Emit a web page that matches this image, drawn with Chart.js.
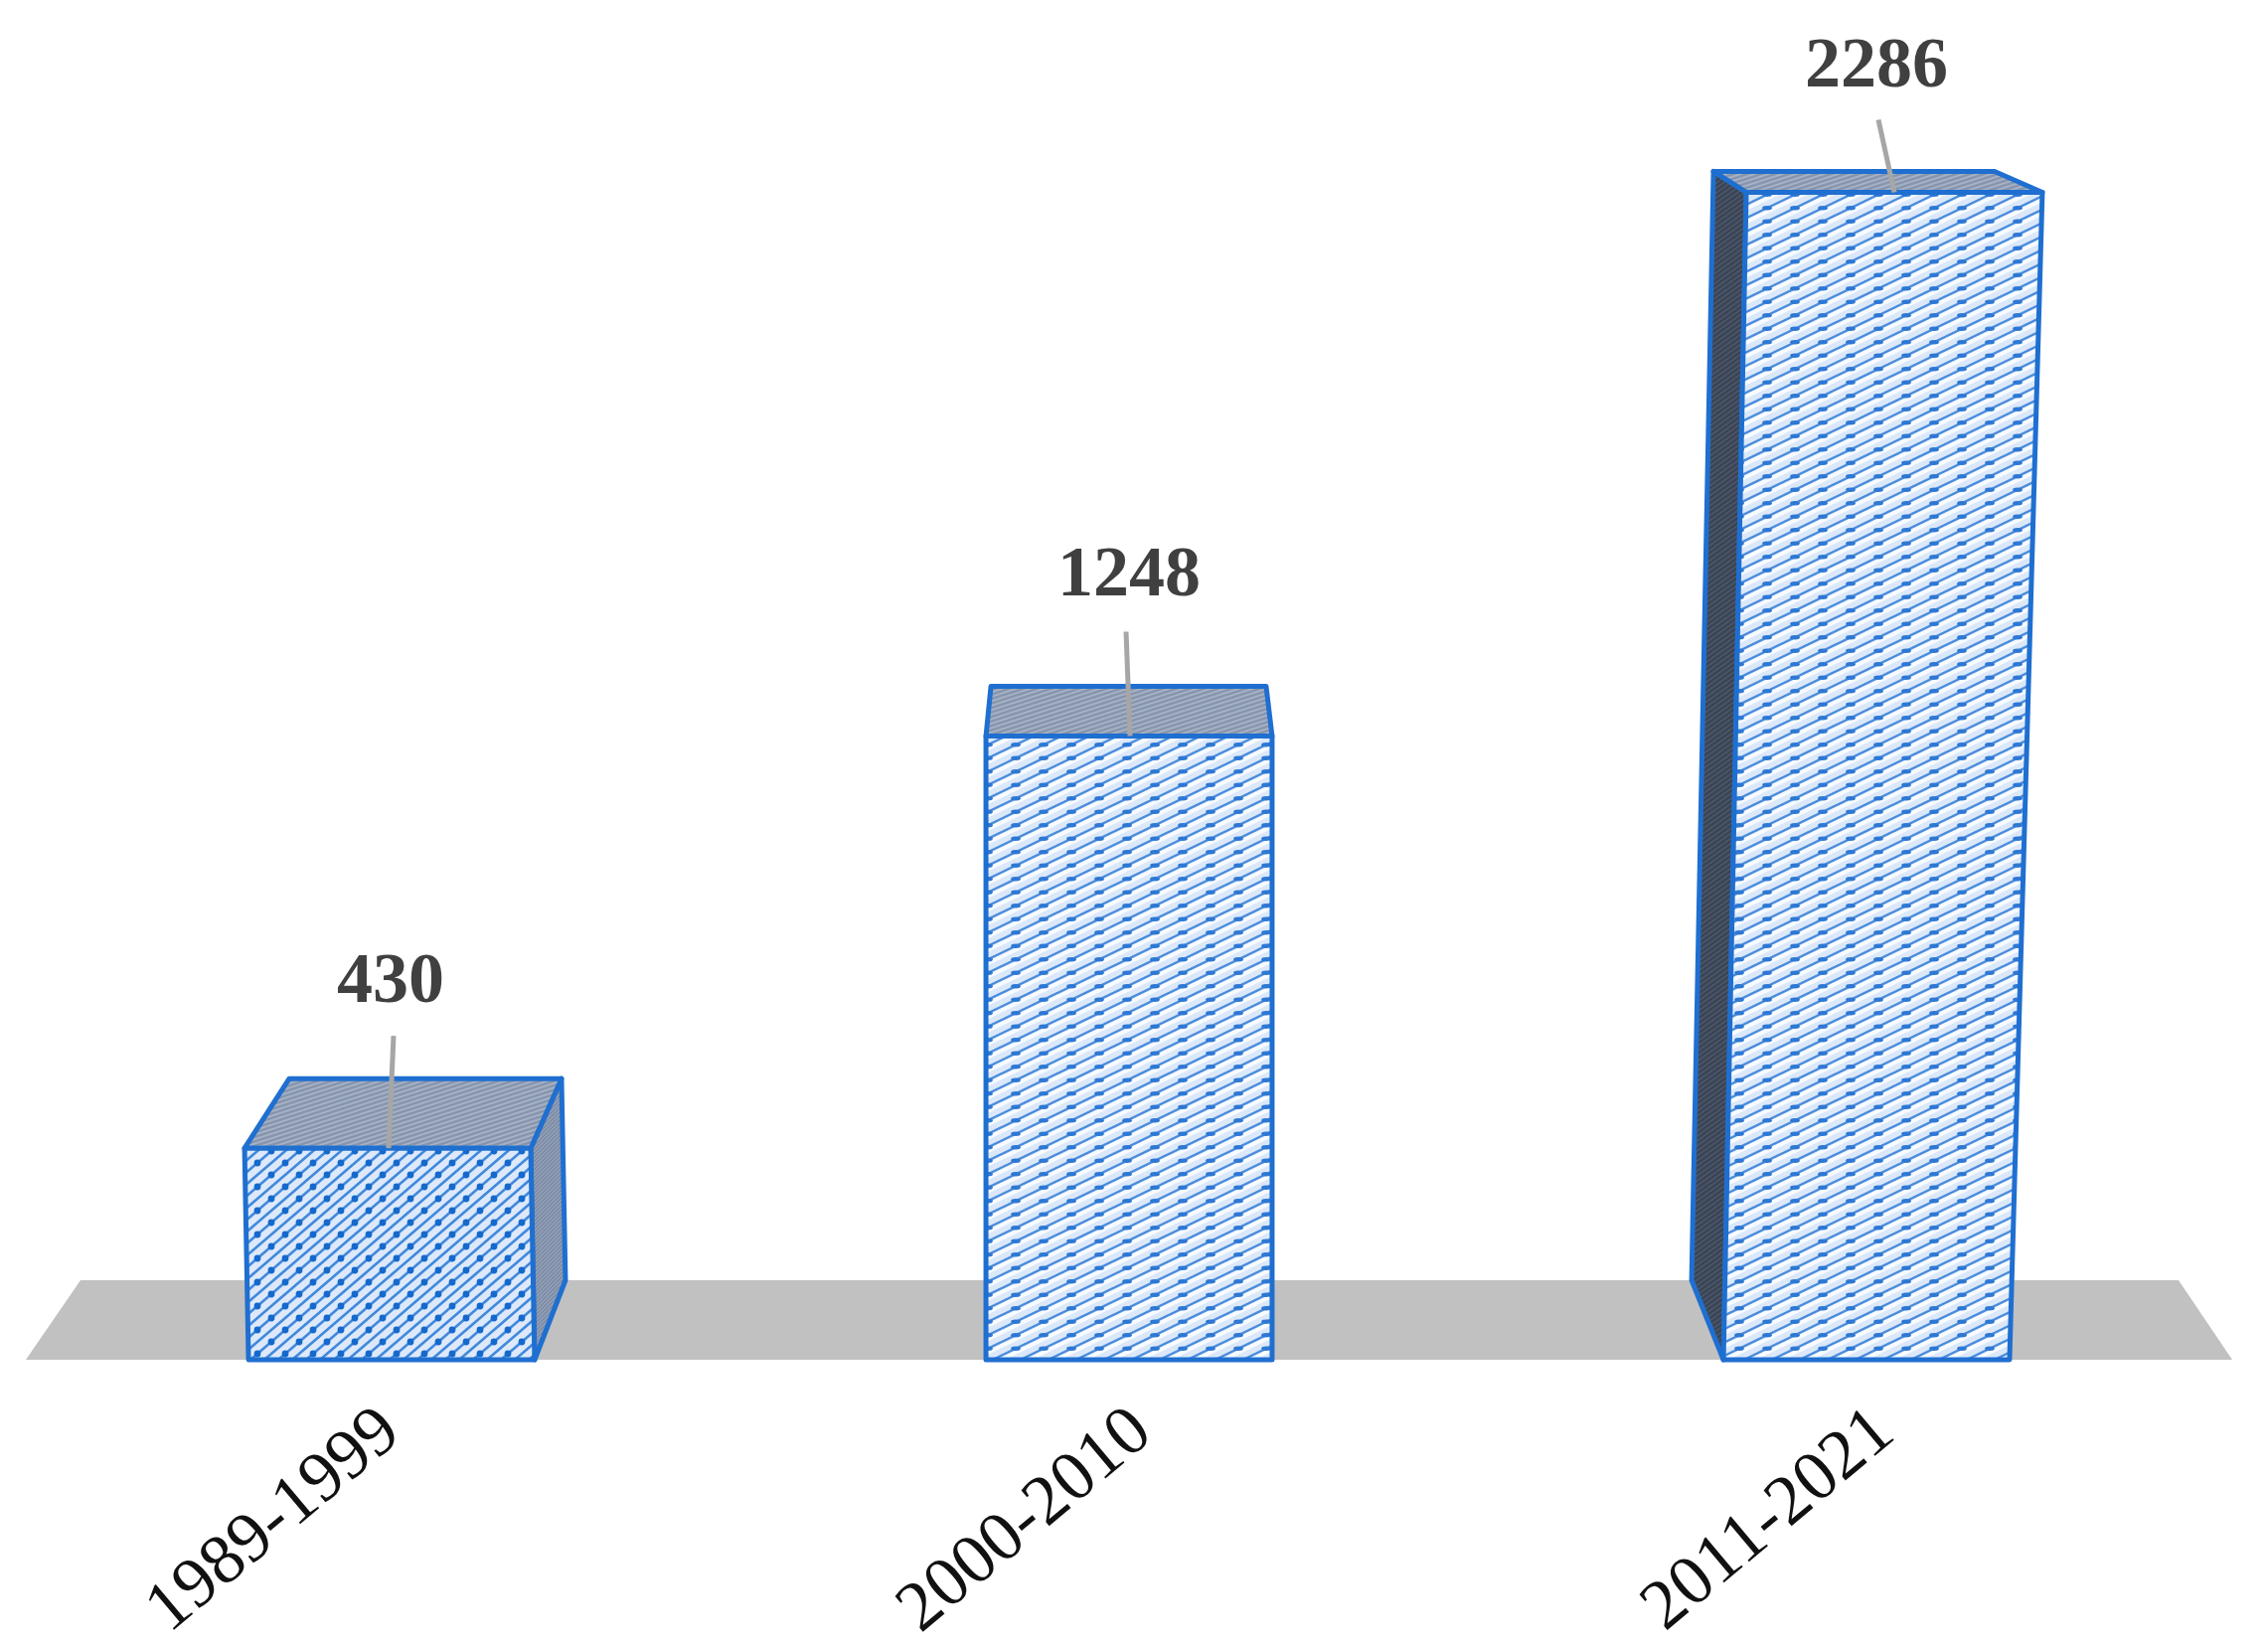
<!DOCTYPE html>
<html>
<head>
<meta charset="utf-8">
<style>
    html, body { margin: 0; padding: 0; background: #fff; }
    canvas { display: block; }
</style>
</head>
<body>
<canvas id="chart" width="2282" height="1656"></canvas>
<script src="https://cdn.jsdelivr.net/npm/chart.js@4/dist/chart.umd.min.js"></script>
<script>
const periods = ['1989-1999', '2000-2010', '2011-2021'];
const counts = [430, 1248, 2286];

const BLUE = '#1f6fd0';
const BASELINE = 1368;
const TICK_SHIFT = [0, 14, 19];

// offsets of the fake 3D faces, relative to each bar (pixels)
const FACES = [
    { raise: -3, frontTop: [-4, -4], backTop: [41, 27, 70], side: 'right', sideFoot: [31, 80],
      label: [-1, -166], leader: [2, -113, -3] },
    { raise: 1, frontTop: [0, 0], backTop: [5, -6, 50], side: null, sideFoot: null,
      label: [0, -160], leader: [-3, -105, 1] },
    { raise: 27, frontTop: [23, 33], backTop: [-10, -15, 21], side: 'left', sideFoot: [-32, 80],
      label: [10, -125], leader: [12, -73, 28] }
];

const hatch = (w, h, opts) => {
    const tile = document.createElement('canvas');
    tile.width = w;
    tile.height = h;
    const c = tile.getContext('2d');
    c.fillStyle = opts.bg;
    c.fillRect(0, 0, w, h);
    const family = (color, width, dy) => {
        c.strokeStyle = color;
        c.lineWidth = width;
        for (let k = -3; k <= 3; k++) {
            c.beginPath();
            c.moveTo(k * w / 2 - w, 2 * h + dy);
            c.lineTo(k * w / 2 + 2 * w, -h + dy);
            c.stroke();
        }
    };
    if (opts.streak) family(opts.streak, opts.width + 1.5, opts.width + 1.5);
    family(opts.line, opts.width, 0);
    if (opts.dots) {
        c.fillStyle = opts.dot;
        opts.dots.forEach(([fx, fy]) => {
            c.beginPath();
            c.ellipse(fx * w, fy * h, opts.dotR * (opts.dotStretch || 1), opts.dotR, 0, 0, Math.PI * 2);
            c.fill();
        });
    }
    return document.getElementById('chart').getContext('2d').createPattern(tile, 'repeat');
};

const wideHatch = hatch(28, 24, {
    bg: '#dde9fa', line: '#4189dc', width: 2.6, dot: '#1569cc', dotR: 3.4,
    dots: [[0.25, 0.75], [0.75, 0.25]]
});
const fineHatch = hatch(56, 27, {
    bg: '#dbe8fa', line: '#4a8cdc', width: 2.4, streak: '#f8fbff', dot: '#2e78d4', dotR: 2.2, dotStretch: 2.2,
    dots: [[0.25, 0.75], [0.75, 0.25], [0.75, 0.75], [0.25, 0.25]]
});
const topHatch = hatch(28, 9, { bg: '#8595b0', line: '#a9b2c2', width: 1.8 });
const sideHatch = hatch(8, 8, { bg: '#7586a3', line: '#93a0b5', width: 1.6 });
const darkHatch = hatch(14, 10, { bg: '#4a5568', line: '#394353', width: 2.2 });

const FRONT_FILL = [wideHatch, fineHatch, fineHatch];
const SIDE_FILL = [sideHatch, null, darkHatch];

const polygon = (ctx, pts, fill) => {
    ctx.beginPath();
    pts.forEach(([x, y], i) => (i ? ctx.lineTo(x, y) : ctx.moveTo(x, y)));
    ctx.closePath();
    ctx.fillStyle = fill;
    ctx.fill();
    ctx.strokeStyle = BLUE;
    ctx.lineWidth = 5;
    ctx.lineJoin = 'round';
    ctx.stroke();
};

const floorPlugin = {
    id: 'floor',
    // the period labels do not sit on the same spot under each bar
    afterLayout(chart) {
        chart.scales.x.getLabelItems().forEach((item, i) => {
            item.options.translation[0] += TICK_SHIFT[i];
        });
    },
    beforeDatasetsDraw(chart) {
        const ctx = chart.ctx;
        const { left, right, bottom } = chart.chartArea;
        ctx.save();
        ctx.fillStyle = '#c1c1c1';
        ctx.beginPath();
        ctx.moveTo(left + 3, bottom);
        ctx.lineTo(left + 58, bottom - 80);
        ctx.lineTo(right - 57, bottom - 80);
        ctx.lineTo(right - 3, bottom);
        ctx.closePath();
        ctx.fill();
        ctx.restore();
    }
};

const bar3dPlugin = {
    id: 'bar3d',
    // replaces the flat rectangles with the faces built from each bar's position
    beforeDatasetDraw(chart, args) {
        const ctx = chart.ctx;
        const elements = chart.getDatasetMeta(args.index).data;
        ctx.save();
        elements.forEach((bar, i) => {
            const f = FACES[i];
            const x0 = bar.x - bar.width / 2;
            const x1 = bar.x + bar.width / 2;
            const top = bar.y - f.raise;
            const tl = [x0 + f.frontTop[0], top];
            const tr = [x1 + f.frontTop[1], top];
            const bl = [x0, bar.base];
            const br = [x1, bar.base];
            const backL = [x0 + f.backTop[0], top - f.backTop[2]];
            const backR = [x1 + f.backTop[1], top - f.backTop[2]];

            if (f.side === 'right') {
                polygon(ctx, [tr, backR, [x1 + f.sideFoot[0], bar.base - f.sideFoot[1]], br], SIDE_FILL[i]);
            } else if (f.side === 'left') {
                polygon(ctx, [tl, backL, [x0 + f.sideFoot[0], bar.base - f.sideFoot[1]], bl], SIDE_FILL[i]);
            }
            polygon(ctx, [tl, backL, backR, tr], topHatch);
            polygon(ctx, [tl, tr, br, bl], FRONT_FILL[i]);

            ctx.strokeStyle = '#a6a6a6';
            ctx.lineWidth = 5;
            ctx.beginPath();
            ctx.moveTo(bar.x + f.leader[0], top + f.leader[1]);
            ctx.lineTo(bar.x + f.leader[2], top);
            ctx.stroke();

            ctx.fillStyle = '#404040';
            ctx.font = 'bold 72px "Liberation Serif"';
            ctx.textAlign = 'center';
            ctx.textBaseline = 'middle';
            ctx.fillText(String(counts[i]), bar.x + f.label[0], top + f.label[1]);
        });
        ctx.restore();
        return false;
    }
};

new Chart(document.getElementById('chart'), {
    type: 'bar',
    data: {
        labels: periods,
        datasets: [{
            data: counts,
            backgroundColor: '#dfeafa',
            borderColor: BLUE,
            barPercentage: 0.388,
            categoryPercentage: 1
        }]
    },
    plugins: [floorPlugin, bar3dPlugin],
    options: {
        responsive: false,
        animation: false,
        layout: { padding: { left: 23, right: 33, top: 113, bottom: 0 } },
        plugins: { legend: { display: false }, tooltip: { enabled: false } },
        scales: {
            x: {
                grid: { display: false },
                border: { display: false },
                ticks: {
                    color: '#111',
                    font: { family: '"Liberation Serif"', size: 71 },
                    minRotation: 40,
                    maxRotation: 40,
                    autoSkip: false,
                    padding: 23
                },
                afterFit(scale) {
                    scale.height = 1656 - BASELINE;
                    scale.paddingLeft = 0;
                    scale.paddingRight = 0;
                }
            },
            y: { display: false, min: 0, max: 2500 }
        }
    }
});
</script>
</body>
</html>
